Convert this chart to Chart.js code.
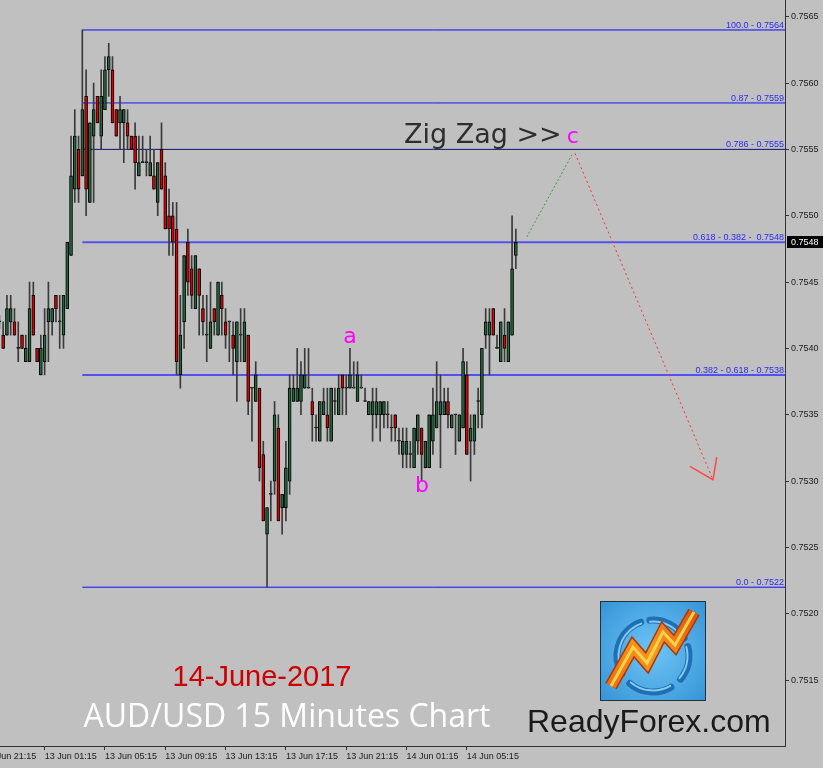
<!DOCTYPE html>
<html>
<head>
<meta charset="utf-8">
<title>AUD/USD 15 Minutes Chart</title>
<script src="https://cdn.jsdelivr.net/npm/chart.js@4.4.0/dist/chart.umd.min.js"></script>
<style>
  html, body { margin: 0; padding: 0; background: #c0c0c0; }
  canvas { display: block; }
</style>
</head>
<body>
<canvas id="chart" width="823" height="768"></canvas>
<script>
/* =====================
  Data (15 min bars, 12 Jun 22:15 onward)
===================== */

var opens = [
  0.7542, 0.7541, 0.7541, 0.7542, 0.7542, 0.7540, 0.7541, 0.7539, 0.7539, 0.7544,
  0.7540, 0.7538, 0.7539, 0.7542, 0.7542, 0.7544, 0.7542, 0.7541, 0.7543, 0.7547,
  0.7552, 0.7555, 0.7553, 0.7559, 0.7551, 0.7556, 0.7559, 0.7556, 0.7558, 0.7561,
  0.7561, 0.7558, 0.7557, 0.7557, 0.7557, 0.7556, 0.7556, 0.7553, 0.7554, 0.7554,
  0.7553, 0.7553, 0.7551, 0.7555, 0.7553, 0.7550, 0.7550, 0.7549, 0.7538, 0.7542,
  0.7548, 0.7546, 0.7543, 0.7546, 0.7543, 0.7541, 0.7540, 0.7543, 0.7541, 0.7544,
  0.7542, 0.7542, 0.7541, 0.7539, 0.7541, 0.7539, 0.7541, 0.7537, 0.7536, 0.7537,
  0.7532, 0.7526, 0.7529, 0.7530, 0.7534, 0.7528, 0.7528, 0.7530, 0.7536, 0.7536,
  0.7536, 0.7537, 0.7537, 0.7536, 0.7534, 0.7533, 0.7535, 0.7535, 0.7533, 0.7536,
  0.7535, 0.7538, 0.7537, 0.7537, 0.7537, 0.7536, 0.7537, 0.7536, 0.7535, 0.7535,
  0.7535, 0.7535, 0.7535, 0.7535, 0.7534, 0.7535, 0.7533, 0.7532, 0.7532, 0.7532,
  0.7531, 0.7533, 0.7534, 0.7531, 0.7531, 0.7533, 0.7534, 0.7535, 0.7535, 0.7536,
  0.7534, 0.7535, 0.7533, 0.7534, 0.7538, 0.7533, 0.7533, 0.7536, 0.7535, 0.7541,
  0.7541, 0.7543, 0.7540, 0.7539, 0.7541, 0.7539, 0.7541, 0.7547
];
var highs = [
  0.75425, 0.7542, 0.7544, 0.7544, 0.7543, 0.7542, 0.7541, 0.7541, 0.7545, 0.7545,
  0.7540, 0.7541, 0.7543, 0.7545, 0.7543, 0.7544, 0.7544, 0.7544, 0.7548, 0.7556,
  0.7558, 0.7556, 0.7564, 0.7561, 0.7557, 0.7560, 0.7559, 0.7561, 0.7562, 0.7563,
  0.7562, 0.7558, 0.7559, 0.7558, 0.7558, 0.7556, 0.7557, 0.7556, 0.7556, 0.7555,
  0.7556, 0.7555, 0.7554, 0.7557, 0.7554, 0.7552, 0.7551, 0.7551, 0.7544, 0.7547,
  0.7549, 0.7547, 0.7547, 0.7546, 0.7544, 0.7544, 0.7545, 0.7543, 0.7545, 0.7545,
  0.7543, 0.7542, 0.7542, 0.7542, 0.7543, 0.7543, 0.7541, 0.7537, 0.7539, 0.7537,
  0.7533, 0.7528, 0.7530, 0.7536, 0.7535, 0.7529, 0.7533, 0.7538, 0.7538, 0.7540,
  0.7539, 0.7540, 0.7540, 0.7537, 0.7535, 0.7536, 0.7537, 0.7537, 0.7537, 0.7537,
  0.7538, 0.7538, 0.7538, 0.7540, 0.7539, 0.7539, 0.7538, 0.7537, 0.7536, 0.7537,
  0.7537, 0.7536, 0.7536, 0.7536, 0.7535, 0.7535, 0.7534, 0.7534, 0.7534, 0.7533,
  0.7534, 0.7535, 0.7534, 0.7533, 0.7535, 0.7537, 0.7539, 0.7538, 0.7537, 0.7537,
  0.7535, 0.7535, 0.7535, 0.7540, 0.7539, 0.7535, 0.7535, 0.7537, 0.7540, 0.7543,
  0.7543, 0.7543, 0.7541, 0.7542, 0.7543, 0.7542, 0.7550, 0.7549
];
var lows = [
  0.75415, 0.7540, 0.7541, 0.7541, 0.7541, 0.7539, 0.7540, 0.7539, 0.7539, 0.7541,
  0.7539, 0.7538, 0.7538, 0.7539, 0.7541, 0.7542, 0.7540, 0.7540, 0.7543, 0.7547,
  0.7551, 0.7551, 0.7553, 0.7550, 0.7551, 0.7551, 0.7557, 0.7555, 0.7558, 0.7559,
  0.7557, 0.7556, 0.7555, 0.7554, 0.7555, 0.7555, 0.7552, 0.7553, 0.7554, 0.7553,
  0.7553, 0.7552, 0.7550, 0.7552, 0.7549, 0.7547, 0.7547, 0.7538, 0.7537, 0.7540,
  0.7544, 0.7543, 0.7543, 0.7541, 0.7541, 0.7539, 0.7540, 0.7541, 0.7541, 0.7541,
  0.7540, 0.7539, 0.7538, 0.7536, 0.7539, 0.7539, 0.7535, 0.7533, 0.7536, 0.7530,
  0.7527, 0.7522, 0.7527, 0.7529, 0.7527, 0.7526, 0.7527, 0.7529, 0.7536, 0.7536,
  0.7535, 0.7537, 0.7537, 0.7533, 0.7533, 0.7533, 0.7535, 0.7533, 0.7533, 0.7535,
  0.7535, 0.7535, 0.7535, 0.7537, 0.7537, 0.7536, 0.7537, 0.7536, 0.7535, 0.7533,
  0.7534, 0.7533, 0.7534, 0.7534, 0.7533, 0.7533, 0.7532, 0.7531, 0.7531, 0.7531,
  0.7531, 0.7532, 0.7530, 0.7531, 0.7531, 0.7532, 0.7534, 0.7531, 0.7535, 0.7534,
  0.7534, 0.7532, 0.7533, 0.7534, 0.7532, 0.7530, 0.7532, 0.7534, 0.7534, 0.7540,
  0.7538, 0.7541, 0.7540, 0.7539, 0.7539, 0.7539, 0.7541, 0.7546
];
var closes = [
  0.7542, 0.7540, 0.7543, 0.7543, 0.7541, 0.7540, 0.7540, 0.7540, 0.7543, 0.7541,
  0.7539, 0.7540, 0.7541, 0.7543, 0.7543, 0.7543, 0.7542, 0.7544, 0.7548, 0.7553,
  0.7556, 0.7552, 0.7558, 0.7552, 0.7557, 0.7558, 0.7557, 0.7559, 0.7561, 0.7562,
  0.7557, 0.7556, 0.7558, 0.7558, 0.7556, 0.7555, 0.7554, 0.7554, 0.7554, 0.7554,
  0.7554, 0.7552, 0.7554, 0.7552, 0.7549, 0.7549, 0.7548, 0.7539, 0.7541, 0.7547,
  0.7545, 0.7544, 0.7547, 0.7544, 0.7542, 0.7541, 0.7542, 0.7542, 0.7545, 0.7543,
  0.7541, 0.7542, 0.7540, 0.7542, 0.7541, 0.7542, 0.7536, 0.7537, 0.7538, 0.7531,
  0.7527, 0.7528, 0.7529, 0.7535, 0.7527, 0.7529, 0.7531, 0.7537, 0.7537, 0.7537,
  0.7538, 0.7538, 0.7537, 0.7535, 0.7534, 0.7536, 0.7536, 0.7534, 0.7537, 0.7536,
  0.7537, 0.7537, 0.7537, 0.7538, 0.7537, 0.7538, 0.7537, 0.7536, 0.7536, 0.7536,
  0.7536, 0.7536, 0.7536, 0.7535, 0.7534, 0.7534, 0.7533, 0.7533, 0.7533, 0.7532,
  0.7534, 0.7535, 0.7532, 0.7533, 0.7535, 0.7535, 0.7536, 0.7536, 0.7536, 0.7535,
  0.7535, 0.7535, 0.7535, 0.7539, 0.7532, 0.7534, 0.7535, 0.7536, 0.7540, 0.7542,
  0.7542, 0.7541, 0.7540, 0.7542, 0.7540, 0.7542, 0.7546, 0.7548
];

// time axis: bar index of each label
var timeTickBars = [-4, 12, 28, 44, 60, 76, 92, 108, 124];
var timeTickLabels = ['12 Jun 21:15', '13 Jun 01:15', '13 Jun 05:15', '13 Jun 09:15', '13 Jun 13:15',
                      '13 Jun 17:15', '13 Jun 21:15', '14 Jun 01:15', '14 Jun 05:15'];

// price axis
var priceTicks = [0.7515, 0.7520, 0.7525, 0.7530, 0.7535, 0.7540, 0.7545, 0.7550, 0.7555, 0.7560, 0.7565];
var lastPrice = 0.7548;

// fibonacci retracement (drawn from the bar 22 high to the right edge)
var fibStartBar = 22;
var fibLevels = [0.7564, 0.75585, 0.7555, 0.7548, 0.7538, 0.7522];
var fibLabels = ['100.0 - 0.7564', '0.87 - 0.7559', '0.786 - 0.7555', '0.618 - 0.382 -  0.7548',
                 '0.382 - 0.618 - 0.7538', '0.0 - 0.7522'];

// zig zag projection
var waveUpBars = [139.9, 151.9];
var waveUpPrices = [0.75484, 0.75546];
var waveDownBars = [152.7, 189.0];
var waveDownPrices = [0.75547, 0.75303];
var arrowBars = [183.2, 189.3, 190.3];
var arrowPrices = [0.75311, 0.75301, 0.75318];
var waveNames = ['a', 'b', 'c'];
var waveNameBars = [93.0, 112.1, 152.1];
var waveNamePrices = [0.75408, 0.75296, 0.75559];

/* =====================
  Chart
===================== */

var xMin = 0.16, xMax = 208.4;
var yMin = 0.751003, yMax = 0.756626;

Chart.defaults.font.family = '"Liberation Sans", Arial, sans-serif';

var toPoints = function(xs, ys) {
  return xs.map(function(x, i) { return {x: x, y: ys[i]}; });
};

var bodyData = opens.map(function(o, i) { return {x: i, y: [o, closes[i]]}; });
var wickData = lows.map(function(l, i) { return {x: i, y: [l, highs[i]]}; });
var bodyColors = opens.map(function(o, i) { return closes[i] < o ? '#dd0000' : '#22673f'; });

var fibStyle = function(i) {
  var colors = ['#0a0aff', '#1414ff', '#101070', '#5252f2', '#5252f2', '#0a0aff'];
  var widths = [1, 1, 1, 2, 2, 1];
  return {color: colors[i], width: widths[i]};
};

var datasets = [
  {
    type: 'bar', data: bodyData, backgroundColor: bodyColors, borderColor: '#000000',
    borderWidth: 1, borderSkipped: false, barThickness: 3, minBarLength: 1,
    grouped: false, order: 0
  },
  {
    type: 'bar', data: wickData, backgroundColor: '#3a3a3a', borderWidth: 0,
    barThickness: 1, grouped: false, order: 1
  }
];

fibLevels.forEach(function(lvl, i) {
  var st = fibStyle(i);
  datasets.push({
    type: 'line', data: [{x: fibStartBar, y: lvl}, {x: xMax, y: lvl}],
    borderColor: st.color, borderWidth: st.width, pointRadius: 0, order: 3
  });
});

datasets.push({
  type: 'line', data: toPoints(waveUpBars, waveUpPrices), borderColor: '#3f9f3f',
  borderWidth: 1, borderDash: [2, 2], pointRadius: 0, order: 2
});
datasets.push({
  type: 'line', data: toPoints(waveDownBars, waveDownPrices), borderColor: '#ff3030',
  borderWidth: 1, borderDash: [2, 3], pointRadius: 0, order: 2
});
datasets.push({
  type: 'line', data: toPoints(arrowBars, arrowPrices), borderColor: '#ff4848',
  borderWidth: 1.5, pointRadius: 0, order: 2
});

var drawLogo = function(c) {
  var x0 = 600, y0 = 601, w = 106, h = 100;
  var g = c.createRadialGradient(x0 + w / 2, y0 + h / 2, 10, x0 + w / 2, y0 + h / 2, 80);
  g.addColorStop(0, '#66bdf0');
  g.addColorStop(1, '#2f8fd4');
  c.fillStyle = g;
  c.fillRect(x0, y0, w, h);
  c.strokeStyle = '#20303c';
  c.lineWidth = 1;
  c.strokeRect(x0 + 0.5, y0 + 0.5, w - 1, h - 1);
  // broken ring
  var cx = 653, cy = 656, r = 36;
  var arcs = [[150, 250], [265, 330], [345, 400], [60, 130]];
  c.lineCap = 'round';
  arcs.forEach(function(a) {
    c.beginPath();
    c.arc(cx, cy, r, a[0] * Math.PI / 180, a[1] * Math.PI / 180);
    c.strokeStyle = '#1f6fb5';
    c.lineWidth = 7;
    c.stroke();
    c.beginPath();
    c.arc(cx, cy, r - 1.5, a[0] * Math.PI / 180, a[1] * Math.PI / 180);
    c.strokeStyle = '#86caf0';
    c.lineWidth = 2;
    c.stroke();
  });
  // rising zig zag bolt
  var pts = [[611, 686], [633, 647], [647, 663], [663, 632], [675, 645], [694, 612]];
  var path = function() {
    c.beginPath();
    pts.forEach(function(p, i) { if (i === 0) c.moveTo(p[0], p[1]); else c.lineTo(p[0], p[1]); });
  };
  c.lineJoin = 'miter';
  c.lineCap = 'butt';
  path(); c.strokeStyle = '#a83a08'; c.lineWidth = 13; c.stroke();
  var og = c.createLinearGradient(610, 690, 695, 610);
  og.addColorStop(0, '#f06a10');
  og.addColorStop(0.5, '#f59a20');
  og.addColorStop(1, '#e05010');
  path(); c.strokeStyle = og; c.lineWidth = 10; c.stroke();
  path(); c.strokeStyle = '#ffd24a'; c.lineWidth = 3; c.stroke();
};

var overlay = {
  id: 'overlay',
  beforeDraw: function(chart) {
    var c = chart.ctx;
    c.save();
    c.fillStyle = '#c0c0c0';
    c.fillRect(0, 0, chart.width, chart.height);
    c.restore();
  },
  afterDatasetsDraw: function(chart) {
    var c = chart.ctx, xs = chart.scales.x, ys = chart.scales.y, area = chart.chartArea;
    c.save();
    // fib labels
    c.font = '9px "Liberation Sans"';
    c.fillStyle = '#2a2af2';
    c.textAlign = 'right';
    c.textBaseline = 'alphabetic';
    fibLevels.forEach(function(lvl, i) {
      c.fillText(fibLabels[i], area.right - 1, ys.getPixelForValue(lvl) - 2);
    });
    // wave names
    c.font = '22px "DejaVu Sans"';
    c.fillStyle = '#ff00ff';
    c.textAlign = 'center';
    c.textBaseline = 'middle';
    waveNames.forEach(function(n, i) {
      c.fillText(n, xs.getPixelForValue(waveNameBars[i]), ys.getPixelForValue(waveNamePrices[i]));
    });
    c.restore();
  },
  afterDraw: function(chart) {
    var c = chart.ctx, ys = chart.scales.y, area = chart.chartArea;
    c.save();
    c.textBaseline = 'alphabetic';
    c.font = '27px "DejaVu Sans"';
    c.fillStyle = '#2e2e2e';
    c.textAlign = 'left';
    c.fillText('Zig Zag >>', 404, 143);

    c.font = '29px "Liberation Sans"';
    c.fillStyle = '#cc0000';
    c.textAlign = 'center';
    c.fillText('14-June-2017', 262, 686);

    c.font = '32px "Open Sans"';
    c.fillStyle = '#ffffff';
    c.fillText('AUD/USD 15 Minutes Chart', 287, 727);

    c.font = '32px "Liberation Sans"';
    c.fillStyle = '#1a1a1a';
    c.textAlign = 'left';
    c.fillText('ReadyForex.com', 527, 732);

    drawLogo(c);

    // last price marker on the price axis
    var py = Math.round(ys.getPixelForValue(lastPrice));
    c.fillStyle = '#000000';
    c.fillRect(area.right + 2, py - 6, 36, 12);
    c.font = '9px "Liberation Sans"';
    c.fillStyle = '#ffffff';
    c.textBaseline = 'middle';
    c.fillText(lastPrice.toFixed(4), area.right + 6, py + 0.5);
    c.restore();
  }
};

var noPadding = function(s) {
  s.paddingLeft = 0; s.paddingRight = 0; s.paddingTop = 0; s.paddingBottom = 0;
};

new Chart(document.getElementById('chart'), {
  type: 'bar',
  data: {datasets: datasets},
  plugins: [overlay],
  options: {
    responsive: false,
    devicePixelRatio: 1,
    animation: false,
    events: [],
    layout: {padding: 0},
    plugins: {legend: {display: false}, tooltip: {enabled: false}},
    scales: {
      x: {
        type: 'linear', min: xMin, max: xMax, offset: false,
        afterFit: function(s) { s.height = 22; noPadding(s); },
        afterBuildTicks: function(s) {
          s.ticks = timeTickBars.map(function(v) { return {value: v}; });
        },
        ticks: {
          autoSkip: false, maxRotation: 0, align: 'start', padding: 1,
          color: '#1a1a1a', font: {size: 9},
          callback: function(v) { return timeTickLabels[timeTickBars.indexOf(v)]; }
        },
        grid: {drawOnChartArea: false, tickLength: 4, color: '#333333', offset: false},
        border: {color: '#333333', width: 1}
      },
      y: {
        type: 'linear', position: 'right', min: yMin, max: yMax,
        afterFit: function(s) { s.width = 38; noPadding(s); },
        afterBuildTicks: function(s) {
          s.ticks = priceTicks.map(function(v) { return {value: v}; });
        },
        ticks: {
          padding: 2, color: '#1a1a1a', font: {size: 9},
          callback: function(v) { return v.toFixed(4); }
        },
        grid: {drawOnChartArea: false, tickLength: 4, color: '#333333'},
        border: {color: '#333333', width: 1}
      }
    }
  }
});
</script>
</body>
</html>
